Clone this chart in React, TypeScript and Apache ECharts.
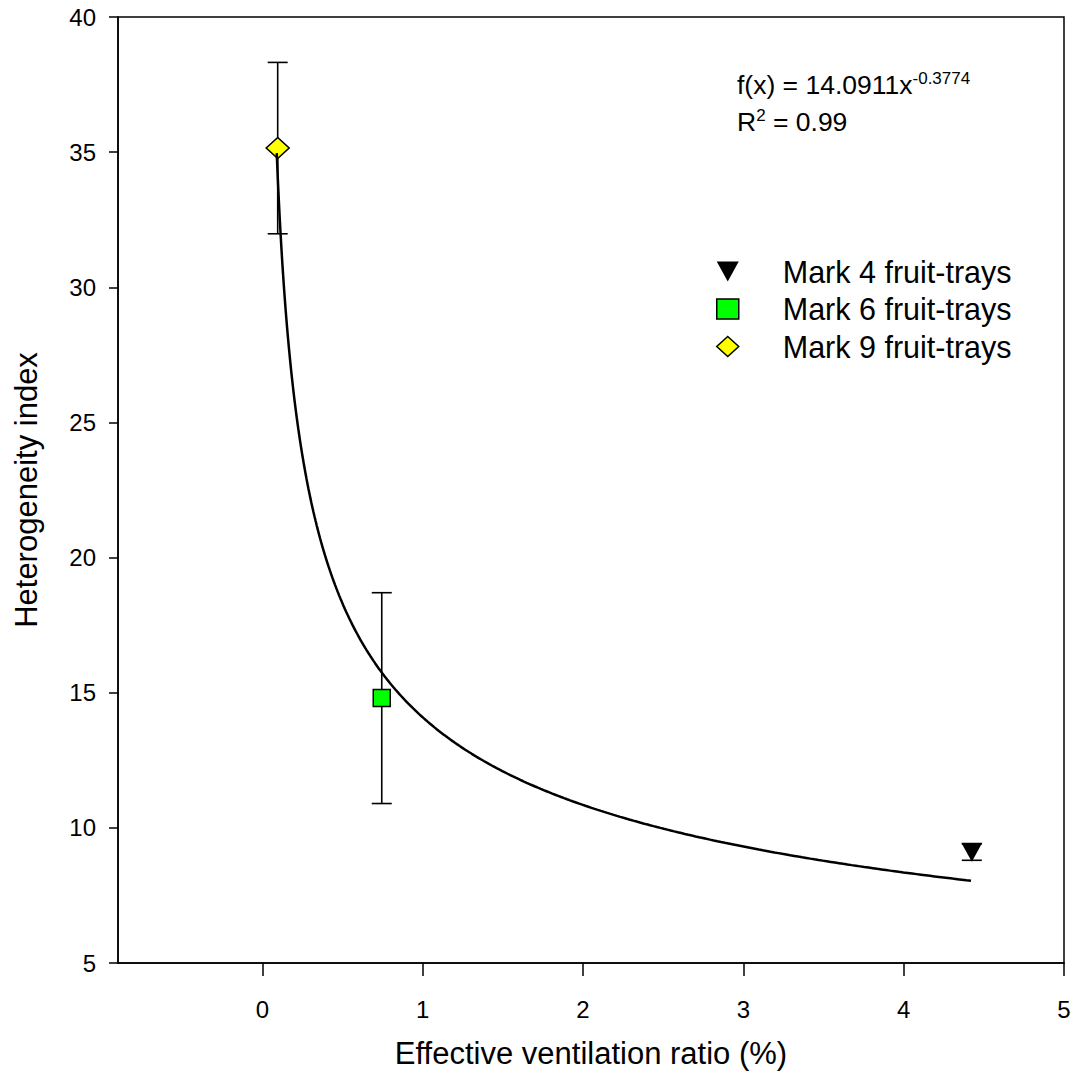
import React, { useEffect, useRef } from "react";
import * as echarts from "echarts";

// ---- data ----
const seriesNames = ["Mark 4 fruit-trays", "Mark 6 fruit-trays", "Mark 9 fruit-trays"];
const ventilationRatio = [4.425, 0.745, 0.096]; // x, %
const heterogeneityIndex = [9.1, 14.8, 35.15]; // y
const errorHalf = [0.3, 3.9, 3.17]; // +/- error
const fitA = 14.0911;
const fitB = -0.3774;
const fitXStart = 0.09;
const fitXEnd = 4.42;
const xTickValues = [0, 1, 2, 3, 4, 5];

const FONT = "'Liberation Sans', Arial, Helvetica, sans-serif";

function buildFit(): number[][] {
  const pts: number[][] = [];
  const n = 300;
  for (let i = 0; i <= n; i++) {
    const t = i / n;
    const x = fitXStart + (fitXEnd - fitXStart) * t * t;
    pts.push([x, fitA * Math.pow(x, fitB)]);
  }
  return pts;
}

const symbols = ["triangle", "rect", "diamond"];
const symbolSizes: any[] = [[21, 19], 17, [23, 21]];
const symbolRotate = [180, 0, 0];
const fills = ["#000000", "#00ff00", "#ffff00"];
const legendIcons = ["path://M0,0L20,0L10,18Z", "rect", "diamond"];

export default function App() {
  const ref = useRef<HTMLDivElement>(null);
  useEffect(() => {
    if (!ref.current) return;
    const chart = echarts.init(ref.current, null, { renderer: "svg" });

    const errData = ventilationRatio.map((x, i) => [x, heterogeneityIndex[i], errorHalf[i]]);

    const scatterSeries = seriesNames.map((name, i) => ({
      name,
      type: "scatter",
      data: [[ventilationRatio[i], heterogeneityIndex[i]]],
      symbol: symbols[i],
      symbolSize: symbolSizes[i],
      symbolRotate: symbolRotate[i],
      itemStyle: { color: fills[i], borderColor: "#000", borderWidth: i === 0 ? 0 : 1.5, opacity: 1 },
      z: 3,
      emphasis: { disabled: true },
    }));

    const option: any = {
      animation: false,
      backgroundColor: "#fff",
      grid: {
        left: 118,
        right: 14,
        top: 17,
        bottom: 122,
        show: true,
        borderColor: "#000",
        borderWidth: 1.5,
        backgroundColor: "transparent",
      },
      xAxis: {
        type: "value",
        min: -0.9,
        max: 5,
        name: "Effective ventilation ratio (%)",
        nameLocation: "middle",
        nameGap: 75,
        nameTextStyle: { fontFamily: FONT, fontSize: 31, color: "#000" },
        axisLine: { show: true, onZero: false, lineStyle: { color: "#000", width: 1.5 } },
        axisTick: { show: true, inside: false, length: 13, customValues: xTickValues, lineStyle: { color: "#000", width: 1.5 } },
        axisLabel: { customValues: xTickValues, fontFamily: FONT, fontSize: 24, color: "#000", margin: 34 },
        splitLine: { show: false },
      },
      yAxis: {
        type: "value",
        min: 5,
        max: 40,
        interval: 5,
        name: "Heterogeneity index",
        nameLocation: "middle",
        nameGap: 76,
        nameTextStyle: { fontFamily: FONT, fontSize: 31, color: "#000" },
        axisLine: { show: true, onZero: false, lineStyle: { color: "#000", width: 1.5 } },
        axisTick: { show: true, inside: false, length: 9, lineStyle: { color: "#000", width: 1.5 } },
        axisLabel: { fontFamily: FONT, fontSize: 24, color: "#000", margin: 22 },
        splitLine: { show: false },
      },
      legend: {
        orient: "vertical",
        left: 711,
        top: 251,
        itemWidth: 22,
        itemHeight: 20,
        itemGap: 6.5,
        data: seriesNames.map((n, i) => ({
          name: n,
          icon: legendIcons[i],
          itemStyle: { color: fills[i], borderColor: "#000", borderWidth: i === 0 ? 0 : 1.5 },
        })),
        textStyle: { fontFamily: FONT, fontSize: 30.5, color: "#000", padding: [0, 0, 0, 39] },
        selectedMode: false,
      },
      graphic: [
        {
          type: "text",
          left: 737,
          top: 66,
          style: {
            text: "{n|f(x) = 14.0911x}{s|-0.3774}\n{n|R}{s|2}{n| = 0.99}",
            rich: {
              n: { fontFamily: FONT, fontSize: 26.5, fill: "#000", lineHeight: 37 },
              s: { fontFamily: FONT, fontSize: 17, fill: "#000", verticalAlign: "top", lineHeight: 37, padding: [4, 0, 0, 0] },
            },
          },
        },
      ],
      series: [
        {
          type: "custom",
          name: "error",
          data: errData,
          z: 2,
          renderItem: (params: any, api: any) => {
            const x = api.value(0);
            const y = api.value(1);
            const e = api.value(2);
            const top = api.coord([x, y + e]);
            const bot = api.coord([x, y - e]);
            const hw = 10;
            const st = { stroke: "#000", lineWidth: 1.6 };
            return {
              type: "group",
              children: [
                { type: "line", shape: { x1: top[0], y1: top[1], x2: bot[0], y2: bot[1] }, style: st },
                { type: "line", shape: { x1: top[0] - hw, y1: top[1], x2: top[0] + hw, y2: top[1] }, style: st },
                { type: "line", shape: { x1: bot[0] - hw, y1: bot[1], x2: bot[0] + hw, y2: bot[1] }, style: st },
              ],
            };
          },
        },
        ...scatterSeries,
        {
          type: "line",
          name: "fit",
          data: buildFit(),
          showSymbol: false,
          symbol: "none",
          lineStyle: { color: "#000", width: 2.5 },
          z: 4,
          emphasis: { disabled: true },
        },
      ],
    };
    chart.setOption(option);
    return () => chart.dispose();
  }, []);
  return (
    <div
      ref={ref}
      style={{ position: "absolute", left: 0, top: 0, width: 1078, height: 1085, background: "#fff" }}
    />
  );
}
